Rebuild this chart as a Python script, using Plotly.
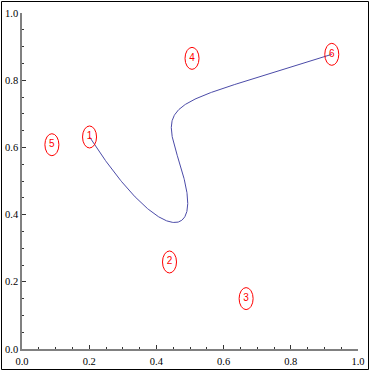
import math
import numpy as np
import plotly.graph_objects as go

# control points
labels = ["1", "2", "3", "4", "5", "6"]
px = [0.201, 0.439, 0.667, 0.506, 0.089, 0.922]
py = [0.631, 0.259, 0.150, 0.865, 0.608, 0.877]

tick_vals = [0.0, 0.2, 0.4, 0.6, 0.8, 1.0]
tick_text = ["0.0", "0.2", "0.4", "0.6", "0.8", "1.0"]

# Bezier curve defined by the control points
n = len(px) - 1
t = np.linspace(0, 1, 400)
bx = np.zeros_like(t)
by = np.zeros_like(t)
for k in range(n + 1):
    b = math.comb(n, k) * t**k * (1 - t) ** (n - k)
    bx += b * px[k]
    by += b * py[k]

fig = go.Figure()
fig.add_trace(go.Scatter(x=bx, y=by, mode="lines",
                         line=dict(color="#4b4ba8", width=1),
                         hoverinfo="skip", showlegend=False))
fig.add_trace(go.Scatter(x=px, y=py, mode="text", text=labels,
                         textposition="middle center",
                         textfont=dict(color="red", size=10, family="Liberation Sans"),
                         showlegend=False))

shapes = []
for x, y in zip(px, py):
    shapes.append(dict(type="circle", xref="x", yref="y",
                       xsizemode="pixel", ysizemode="pixel",
                       xanchor=x, yanchor=y, x0=-7, x1=7, y0=-11, y1=11,
                       line=dict(color="red", width=1)))
# outer frame
shapes.append(dict(type="rect", xref="paper", yref="paper",
                   x0=(1.5 - 22) / 336, x1=(368.5 - 22) / 336,
                   y0=(349 - 369.5) / 336, y1=(349 - 1.5) / 336,
                   line=dict(color="black", width=1)))

axis_common = dict(range=[0, 1], showgrid=False, zeroline=False,
                   showline=True, linecolor="#808080", linewidth=1.5,
                   ticks="inside", ticklen=4, tickcolor="#333333", tickwidth=1,
                   tickvals=tick_vals, ticktext=tick_text,
                   tickfont=dict(family="Liberation Serif", size=10.5, color="black"),
                   minor=dict(ticks="inside", ticklen=2.5, dtick=0.05,
                              tickcolor="#333333", tickwidth=1),
                   automargin=False, fixedrange=True)

fig.update_layout(
    width=370, height=371,
    margin=dict(l=22, r=12, t=13, b=22),
    paper_bgcolor="white", plot_bgcolor="white",
    xaxis=dict(**axis_common, ticklabelstandoff=2),
    yaxis=dict(**axis_common),
    shapes=shapes,
    showlegend=False,
)

fig.write_html("out.html", config={"displayModeBar": False})
